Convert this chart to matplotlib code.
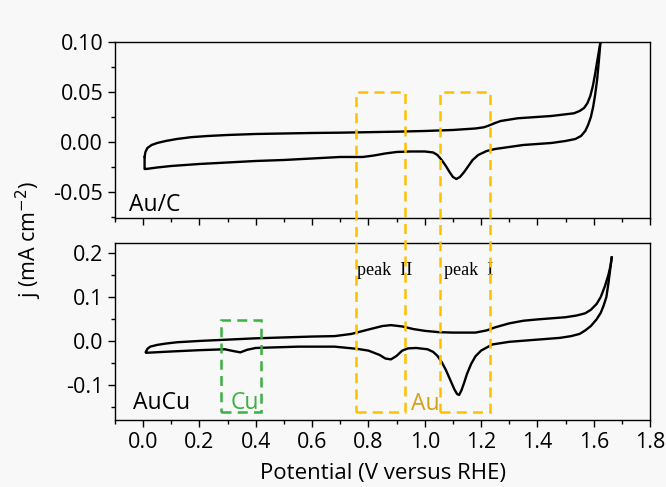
import matplotlib
matplotlib.use("Agg")
import matplotlib.pyplot as plt
from matplotlib.ticker import MultipleLocator
from matplotlib.patches import Rectangle

plt.rcParams['font.family'] = ['Open Sans', 'DejaVu Sans']

# Au/C, anodic sweep
auc_up_v = [0.005, 0.008, 0.015, 0.03, 0.05, 0.08, 0.12, 0.17, 0.23, 0.30, 0.40, 0.50,
            0.60, 0.70, 0.80, 0.90, 1.00, 1.10, 1.18, 1.21, 1.23, 1.25, 1.27, 1.33,
            1.45, 1.53, 1.55, 1.566, 1.578, 1.588, 1.597, 1.605, 1.612, 1.618, 1.624,
            1.632]
auc_up_j = [-0.015, -0.010, -0.006, -0.003, -0.001, 0.001, 0.003, 0.0048, 0.006, 0.007,
            0.008, 0.0085, 0.009, 0.0093, 0.0098, 0.0103, 0.011, 0.012, 0.0135, 0.0147,
            0.0167, 0.019, 0.021, 0.0237, 0.026, 0.0287, 0.031, 0.034, 0.039, 0.046,
            0.056, 0.068, 0.080, 0.090, 0.10, 0.12]
# Au/C, cathodic sweep
auc_dn_v = [1.632, 1.624, 1.618, 1.612, 1.605, 1.598, 1.59, 1.58, 1.57, 1.555, 1.535,
            1.50, 1.45, 1.35, 1.25, 1.22, 1.19, 1.17, 1.155, 1.14, 1.125, 1.112, 1.10,
            1.088, 1.075, 1.06, 1.045, 1.03, 1.00, 0.95, 0.90, 0.86, 0.82, 0.78, 0.74,
            0.70, 0.60, 0.50, 0.40, 0.30, 0.20, 0.10, 0.05, 0.01, 0.005, 0.005]
auc_dn_j = [0.12, 0.10, 0.08, 0.062, 0.047, 0.035, 0.025, 0.017, 0.011, 0.006, 0.003,
            0.001, -0.001, -0.003, -0.007, -0.009, -0.013, -0.018, -0.024, -0.030,
            -0.035, -0.037, -0.035, -0.030, -0.024, -0.018, -0.013, -0.0105, -0.0095,
            -0.0095, -0.010, -0.0115, -0.0135, -0.015, -0.015, -0.015, -0.0165, -0.018,
            -0.019, -0.0205, -0.022, -0.024, -0.0255, -0.027, -0.027, -0.015]

# AuCu, anodic sweep
aucu_up_v = [0.01, 0.015, 0.025, 0.05, 0.08, 0.12, 0.20, 0.30, 0.40, 0.50, 0.60, 0.68,
             0.74, 0.80, 0.85, 0.88, 0.92, 0.96, 1.00, 1.05, 1.10, 1.18, 1.22, 1.25,
             1.30, 1.35, 1.40, 1.50, 1.54, 1.57, 1.59, 1.61, 1.625, 1.64, 1.652, 1.66,
             1.664]
aucu_up_j = [-0.025, -0.018, -0.013, -0.009, -0.006, -0.003, 0.000, 0.003, 0.006, 0.008,
             0.010, 0.011, 0.016, 0.026, 0.034, 0.036, 0.033, 0.027, 0.023, 0.020, 0.019,
             0.019, 0.024, 0.031, 0.040, 0.046, 0.049, 0.054, 0.058, 0.063, 0.071, 0.084,
             0.100, 0.125, 0.150, 0.172, 0.190]
# AuCu, cathodic sweep
aucu_dn_v = [1.664, 1.658, 1.652, 1.645, 1.635, 1.625, 1.61, 1.59, 1.57, 1.55, 1.52,
             1.48, 1.40, 1.30, 1.24, 1.20, 1.18, 1.165, 1.15, 1.14, 1.13, 1.122, 1.115,
             1.105, 1.09, 1.075, 1.06, 1.045, 1.03, 1.01, 0.97, 0.94, 0.92, 0.90, 0.88,
             0.86, 0.84, 0.80, 0.76, 0.68, 0.55, 0.45, 0.40, 0.37, 0.345, 0.32, 0.29,
             0.20, 0.10, 0.01, 0.01]
aucu_dn_j = [0.190, 0.160, 0.130, 0.100, 0.080, 0.064, 0.049, 0.034, 0.024, 0.016, 0.011,
             0.007, 0.003, -0.002, -0.008, -0.022, -0.035, -0.052, -0.075, -0.095,
             -0.113, -0.123, -0.121, -0.110, -0.088, -0.066, -0.048, -0.034, -0.025,
             -0.019, -0.016, -0.017, -0.022, -0.034, -0.042, -0.040, -0.032, -0.022,
             -0.018, -0.013, -0.013, -0.015, -0.016, -0.020, -0.026, -0.023, -0.019,
             -0.021, -0.024, -0.027, -0.025]

xticks = [0.0, 0.2, 0.4, 0.6, 0.8, 1.0, 1.2, 1.4, 1.6, 1.8]
top_yticks = [-0.05, 0.00, 0.05, 0.10]
bot_yticks = [-0.1, 0.0, 0.1, 0.2]

# dashed boxes
au_boxes = [(0.757, 0.931), (1.053, 1.230)]
au_box_top = 0.05       # in Au/C panel
au_box_bottom = -0.161  # in AuCu panel
cu_box = (0.276, 0.419, -0.161, 0.048)

bg = '#f8f8f8'
orange = '#ffc000'
gold = '#d4a017'
green = '#3cb043'

fig = plt.figure(figsize=(6.66, 4.87), dpi=100, facecolor=bg)
ax1 = fig.add_axes([0.1727, 0.5524, 0.8033, 0.3614], facecolor=bg)
ax2 = fig.add_axes([0.1727, 0.1376, 0.8033, 0.3634], facecolor=bg)

lw = 1.7
ax1.plot(auc_up_v, auc_up_j, color='black', lw=lw)
ax1.plot(auc_dn_v, auc_dn_j, color='black', lw=lw)
ax2.plot(aucu_up_v, aucu_up_j, color='black', lw=lw)
ax2.plot(aucu_dn_v, aucu_dn_j, color='black', lw=lw)

ax1.set_xlim(-0.1, 1.8)
ax2.set_xlim(-0.1, 1.8)
ax1.set_ylim(-0.076, 0.10)
ax2.set_ylim(-0.18, 0.223)

for ax in (ax1, ax2):
    ax.set_xticks(xticks)
    ax.xaxis.set_minor_locator(MultipleLocator(0.1))
    ax.tick_params(which='major', direction='out', length=5, width=1, labelsize=15.5)
    ax.tick_params(which='minor', direction='out', length=3, width=1)
    for s in ax.spines.values():
        s.set_linewidth(1.0)

ax1.set_yticks(top_yticks)
ax1.set_yticklabels([f'{v:.2f}' for v in top_yticks])
ax1.yaxis.set_minor_locator(MultipleLocator(0.025))
ax1.tick_params(axis='x', labelbottom=False)
ax2.set_yticks(bot_yticks)
ax2.set_yticklabels([f'{v:.1f}' for v in bot_yticks])
ax2.yaxis.set_minor_locator(MultipleLocator(0.05))
ax2.set_xticklabels([f'{v:.1f}' for v in xticks])

ax2.set_xlabel('Potential (V versus RHE)', fontsize=16, labelpad=7)
fig.text(0.044, 0.507, r'j (mA cm$^{-2}$)', rotation=90, fontsize=15.5,
         ha='center', va='center')

ax1.text(-0.05, -0.069, 'Au/C', fontsize=16.5, va='baseline')
ax2.text(-0.037, -0.1545, 'AuCu', fontsize=16.5, va='baseline')
ax2.text(0.31, -0.1545, 'Cu', fontsize=16.5, va='baseline', color=green)
ax2.text(0.95, -0.157, 'Au', fontsize=16.5, va='baseline', color=gold)
ax2.text(0.761, 0.15, 'peak  II', fontsize=13, va='baseline', family='Liberation Serif')
ax2.text(1.069, 0.15, 'peak  I', fontsize=13, va='baseline', family='Liberation Serif')

# orange boxes span both panels, so draw them in figure coordinates
fig.canvas.draw()
inv = fig.transFigure.inverted()
for x0, x1 in au_boxes:
    p0 = inv.transform(ax2.transData.transform((x0, au_box_bottom)))
    p1 = inv.transform(ax1.transData.transform((x1, au_box_top)))
    fig.patches.append(Rectangle(p0, p1[0] - p0[0], p1[1] - p0[1], fill=False,
                                 edgecolor=orange, lw=1.8, linestyle=(0, (4, 2.5)),
                                 transform=fig.transFigure, figure=fig, zorder=5))

ax2.add_patch(Rectangle((cu_box[0], cu_box[2]), cu_box[1] - cu_box[0],
                        cu_box[3] - cu_box[2], fill=False, edgecolor=green, lw=1.8,
                        linestyle=(0, (4, 2.5)), zorder=5))

fig.savefig('out.png', dpi=100, facecolor=bg)
